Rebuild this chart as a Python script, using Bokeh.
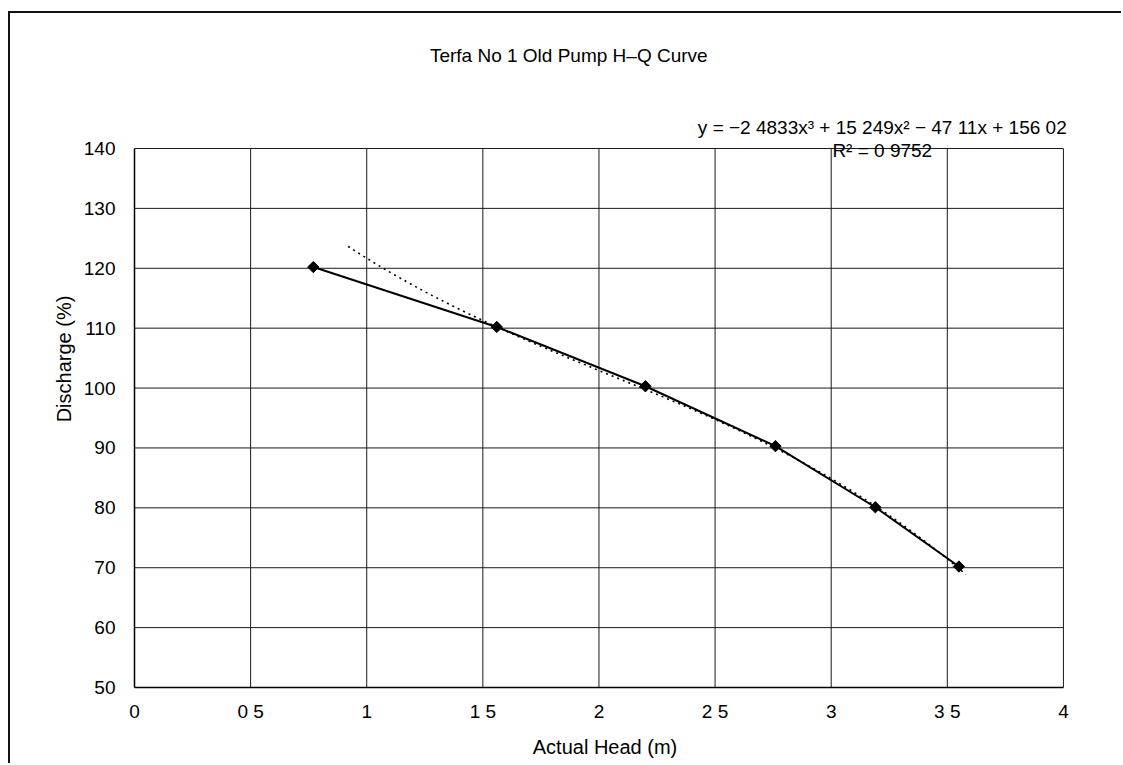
import numpy as np
from bokeh.plotting import figure
from bokeh.models import Range1d, FixedTicker, Label, ColumnDataSource
from bokeh.embed import file_html
from bokeh.resources import INLINE

# ---- data ----
head = [0.77, 1.56, 2.20, 2.76, 3.19, 3.55]          # Actual Head (m)
discharge = [120.2, 110.2, 100.3, 90.3, 80.1, 70.2]  # Discharge (%)

# displayed polynomial trendline (cubic) coefficients, highest power first
trend_coeffs = [-2.4833, 15.249, -47.11, 156.02]
trend_x_start = 0.92
trend_x_end = 3.58

x_ticks = [0, 0.5, 1, 1.5, 2, 2.5, 3, 3.5, 4]
x_tick_labels = ["0", "0 5", "1", "1 5", "2", "2 5", "3", "3 5", "4"]
y_ticks = [50, 60, 70, 80, 90, 100, 110, 120, 130, 140]

title_text = "Terfa No 1 Old Pump H\u2013Q Curve"
equation_text = "y = \u22122 4833x\u00b3 + 15 249x\u00b2 \u2212 47 11x + 156 02"
r2_text = "R\u00b2 = 0 9752"
x_label = "Actual Head (m)"
y_label = "Discharge (%)"

FONT = "Liberation Sans"
X_MIN, X_MAX = 0, 4
Y_MIN, Y_MAX = 50, 140
X_RIGHT = 4.052  # headroom right of plot area so the equation label fits
Y_TOP = 159.7    # headroom above plot area for title / equation

p = figure(
    frame_width=941, frame_height=657,
    min_border_left=124, min_border_right=46,
    min_border_top=17, min_border_bottom=76,
    x_range=Range1d(X_MIN, X_RIGHT), y_range=Range1d(Y_MIN, Y_TOP),
    output_backend="svg", toolbar_location=None,
    background_fill_color="white", border_fill_color="white",
)
p.styles = {"margin-left": "8px", "margin-top": "11px",
            "border-top": "2px solid #111", "border-left": "2px solid #111"}
p.outline_line_color = None

# axes
p.xaxis.ticker = FixedTicker(ticks=x_ticks)
p.xaxis.major_label_overrides = {float(t): l for t, l in zip(x_ticks, x_tick_labels)}
p.xaxis.bounds = (X_MIN, X_MAX)
p.yaxis.ticker = FixedTicker(ticks=y_ticks)
p.yaxis.bounds = (Y_MIN, Y_MAX)
for ax in (p.xaxis[0], p.yaxis[0]):
    ax.major_tick_in = 0
    ax.major_tick_out = 0
    ax.minor_tick_in = 0
    ax.minor_tick_out = 0
    ax.axis_line_color = "black"
    ax.axis_line_width = 1.5
    ax.major_label_text_font = FONT
    ax.major_label_text_font_size = "19px"
    ax.major_label_text_color = "black"
    ax.axis_label_text_font = FONT
    ax.axis_label_text_font_size = "20px"
    ax.axis_label_text_font_style = "normal"
    ax.axis_label_text_color = "black"
p.xaxis.axis_label = x_label
p.yaxis.axis_label = y_label
p.xaxis.major_label_standoff = 13
p.xaxis.axis_label_standoff = 11
p.yaxis.major_label_standoff = 19
p.yaxis.axis_label_standoff = 6

# grid lines limited to the plot area
p.xgrid.visible = False
p.ygrid.visible = False
p.segment(x0=x_ticks, y0=[Y_MIN] * len(x_ticks), x1=x_ticks, y1=[Y_MAX] * len(x_ticks),
          line_color="#1a1a1a", line_width=1)
p.segment(x0=[X_MIN] * len(y_ticks), y0=y_ticks, x1=[X_MAX] * len(y_ticks), y1=y_ticks,
          line_color="#1a1a1a", line_width=1)

# trendline (dotted), from the displayed equation
tx = np.linspace(trend_x_start, trend_x_end, 200)
ty = np.polyval(trend_coeffs, tx)
p.line(tx, ty, line_color="black", line_width=1.6, line_dash="2 4")

# series line and markers
src = ColumnDataSource(dict(x=head, y=discharge))
p.line("x", "y", source=src, line_color="black", line_width=2)
p.scatter("x", "y", source=src, marker="square", angle=np.pi / 4, size=8,
          fill_color="black", line_color="black")

# title and trendline labels
p.add_layout(Label(x=1.87, y=155.5, text=title_text, text_align="center",
                   text_baseline="middle", text_font=FONT,
                   text_font_size="19px", text_color="black"))
p.add_layout(Label(x=3.22, y=143.5, text=equation_text, text_align="center",
                   text_baseline="middle", text_font=FONT,
                   text_font_size="19px", text_color="black"))
p.add_layout(Label(x=3.22, y=139.6, text=r2_text, text_align="center",
                   text_baseline="middle", text_font=FONT,
                   text_font_size="19px", text_color="black"))

open("out.html", "w").write(file_html(p, INLINE))
